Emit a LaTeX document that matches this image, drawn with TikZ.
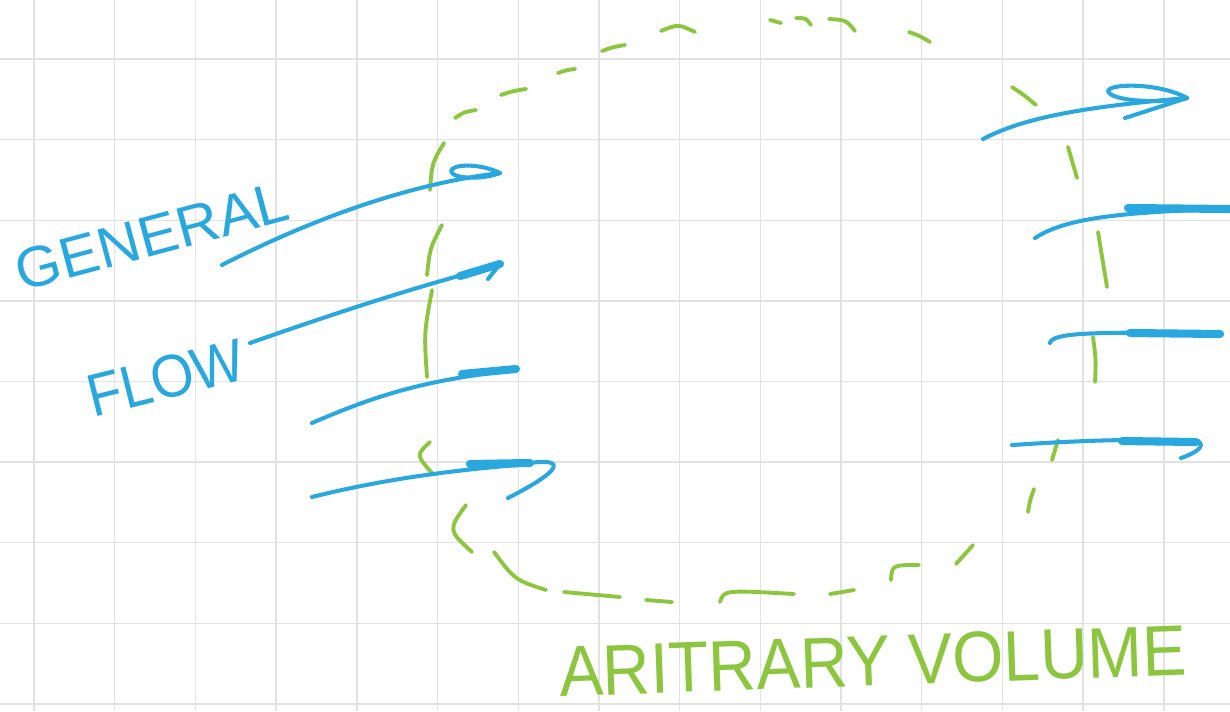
\documentclass[tikz,border=0pt]{standalone}
\usepackage{fontspec}
\setmainfont{Liberation Sans}
\usepackage{graphicx}
\definecolor{Sky}{HTML}{29A8E0}
\definecolor{Leaf}{HTML}{8CC63F}
\definecolor{Paper}{HTML}{E2E2E2}
\tikzset{
  paper/.style={draw=Paper,line width=0.8pt},
  volume/.style={draw=Leaf,line width=2.2pt,line cap=round},
  flowline/.style={draw=Sky,line width=2.3pt,line cap=round,line join=round},
  flowhead/.style={draw=Sky,line width=4.6pt,line cap=round},
  sketch/.style={inner sep=0pt,font=\Huge}
}

\begin{document}
\begin{tikzpicture}[x=0.02cm,y=-0.02cm]
  \fill[white] (0,0) rectangle (1230,711);
  \useasboundingbox (0,0) rectangle (1230,711);

  % grid paper
  \foreach \gx in {34,114.7,...,1230} \draw[paper] (\gx,0) -- (\gx,711);
  \foreach \gy in {59,139.6,...,711} \draw[paper] (0,\gy) -- (1230,\gy);

  % the arbitrary volume, drawn dash by dash
  \foreach \xa/\ya/\xb/\yb/\xc/\yc in {
      444/143/432/163/430/190, 442/225/430/248/427/275, 432/290/424/333/427/377,
      430/442/416/455/432/473, 466/505/448/530/472/552, 494/552/515/580/546/590,
      564/592/592/594/620/597, 646/600/659/601/672/602, 720/602/724/590/794/594,
      830/594/842/592/854/590, 891/580/892/565/919/565, 956/564/965/555/973/545,
      1028/512/1030/500/1034/489, 1052/460/1055/450/1058/440, 1093/337/1096/360/1095/382,
      1098/232/1103/260/1107/287, 1068/147/1072/162/1077/178, 1012/87/1024/95/1036/105,
      909/32/920/36/930/42, 829/19/846/20/855/31, 796/18/806/18/811/25,
      770/20/776/21/781/23, 661/31/678/24/695/32, 602/51/613/47/625/45,
      558/73/567/70/575/69, 501/95/513/91/526/89, 455/118/464/112/476/110}
    \draw[volume] (\xa,\ya) .. controls (\xb,\yb) .. (\xc,\yc);

  % flow going in
  \draw[flowline] (222,265) .. controls (300,225) and (400,185) .. (500,173);
  \draw[flowline] (500,173) .. controls (480,163) and (452,164) .. (451,171)
    .. controls (452,179) and (482,180) .. (500,173);
  \draw[flowline] (250,343) .. controls (330,315) and (420,285) .. (500,265);
  \draw[flowhead] (460,276) -- (500,264);
  \draw[flowline] (500,264) -- (488,279);
  \draw[flowline] (312,423) .. controls (370,398) and (420,380) .. (517,370);
  \draw[flowhead] (462,374) -- (516,369);
  \draw[flowline] (312,497) .. controls (380,480) and (450,470) .. (530,464);
  \draw[flowhead] (470,464) -- (530,463);
  \draw[flowline] (530,463) .. controls (566,458) and (563,470) .. (508,498);

  % flow going out
  \draw[flowline] (983,139) .. controls (1020,120) and (1070,108) .. (1187,98);
  \draw[flowline] (1187,98) .. controls (1160,83) and (1110,83) .. (1108,91)
    .. controls (1110,101) and (1160,104) .. (1187,98);
  \draw[flowline] (1187,98) -- (1125,118);
  \draw[flowline] (1035,238) .. controls (1060,222) and (1100,212) .. (1230,209);
  \draw[flowhead] (1128,208) -- (1230,209);
  \draw[flowline] (1050,343) .. controls (1052,333) and (1090,331) .. (1222,334);
  \draw[flowhead] (1130,333) -- (1220,334);
  \draw[flowline] (1012,445) .. controls (1060,442) and (1120,438) .. (1198,441);
  \draw[flowhead] (1122,441) -- (1196,442);
  \draw[flowline] (1198,441) .. controls (1206,446) and (1196,453) .. (1181,458);

  % labels
  \node[sketch,text=Sky,rotate=15] (general) at (152,236) {\resizebox{5.6cm}{0.8cm}{GENERAL}};
  \node[sketch,text=Sky,rotate=14] (flow) at (166,378) {\resizebox{3.2cm}{0.84cm}{FLOW}};
  \node[sketch,text=Leaf,rotate=2] (volumelabel) at (873,661) {\resizebox{12.56cm}{1cm}{ARITRARY VOLUME}};
\end{tikzpicture}
\end{document}
